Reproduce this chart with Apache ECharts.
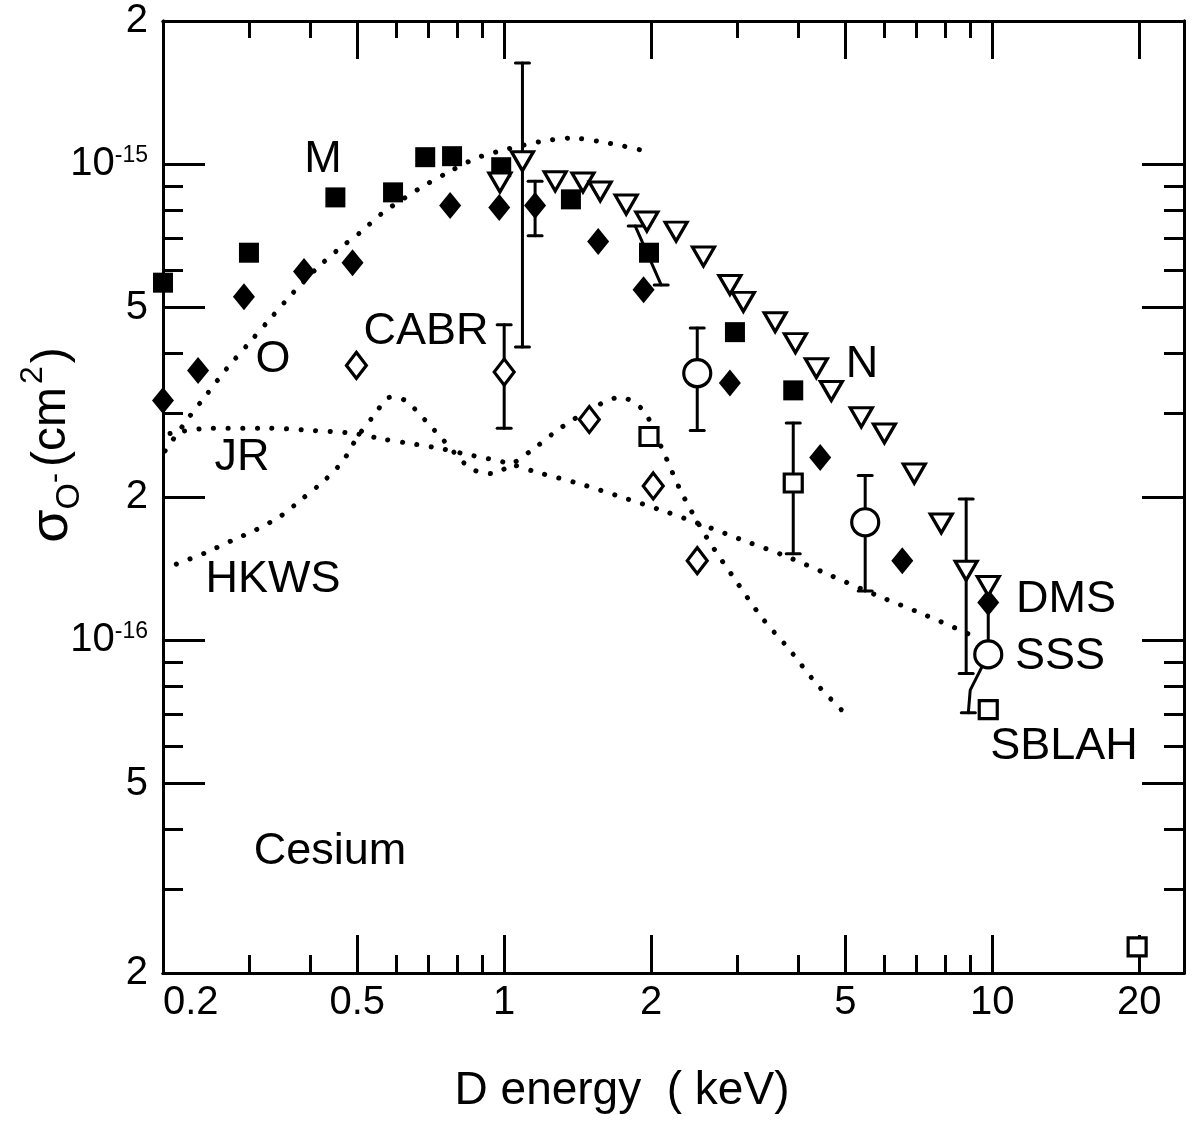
<!DOCTYPE html>
<html>
<head>
<meta charset="utf-8">
<script src="https://cdn.jsdelivr.net/npm/echarts@6/dist/echarts.min.js"></script>
<style>
  html, body { margin: 0; padding: 0; background: #fff; }
  #chart { width: 1192px; height: 1126px; }
</style>
</head>
<body>
<div id="chart"></div>
<script>
// ---------- axes: ranges, ticks, tick labels ----------
const xRange = [0.2, 24.7];
const yRange = [2e-17, 2e-15];
const xLabelValues = [0.2, 0.5, 1, 2, 5, 10, 20];
const xMajorTicks = [0.5, 1, 2, 5, 10, 20];
const xMinorTicks = [0.3, 0.4, 0.6, 0.7, 0.8, 0.9, 3, 4, 6, 7, 8, 9];
const yLabelValues = [2e-17, 5e-17, 1e-16, 2e-16, 5e-16, 1e-15, 2e-15];
const yMajorTicks = [5e-17, 1e-16, 2e-16, 5e-16, 1e-15];
const yMinorTicks = [3e-17, 4e-17, 6e-17, 7e-17, 8e-17, 9e-17, 3e-16, 4e-16, 6e-16, 7e-16, 8e-16, 9e-16];

// ---------- measurements: [energy keV, cross section cm^2] ----------
const filledSquares = [
  [0.2, 5.64e-16], [0.30, 6.52e-16], [0.451, 8.52e-16], [0.592, 8.73e-16],
  [0.689, 1.035e-15], [0.782, 1.04e-15], [0.986, 0.986e-15], [1.37, 8.44e-16],
  [1.98, 6.52e-16], [2.97, 4.44e-16], [3.91, 3.35e-16]
];
const filledDiamonds = [
  [0.2, 3.19e-16], [0.236, 3.69e-16], [0.293, 5.27e-16], [0.389, 5.95e-16],
  [0.489, 6.21e-16], [0.775, 8.19e-16], [0.977, 8.11e-16], [1.157, 8.19e-16],
  [1.558, 6.88e-16], [1.93, 5.45e-16], [2.90, 3.47e-16], [4.44, 2.42e-16],
  [6.54, 1.47e-16], [9.81, 1.20e-16]
];
const openTriangles = [
  [0.98, 9.16e-16], [1.09, 1.015e-15], [1.272, 9.21e-16], [1.45, 9.16e-16],
  [1.573, 8.77e-16], [1.778, 8.23e-16], [1.96, 7.58e-16], [2.25, 7.22e-16],
  [2.56, 6.40e-16], [2.90, 5.58e-16], [3.09, 5.14e-16], [3.59, 4.66e-16],
  [3.95, 4.21e-16], [4.36, 3.73e-16], [4.68, 3.34e-16], [5.39, 2.94e-16],
  [6.01, 2.72e-16], [6.92, 2.24e-16], [7.86, 1.76e-16], [8.84, 1.40e-16],
  [9.81, 1.30e-16]
];
const openCircles = [[2.486, 3.64e-16], [5.49, 1.77e-16], [9.81, 9.34e-17]];
const openSquares = [[1.98, 2.68e-16], [3.91, 2.14e-16], [9.81, 7.15e-17], [19.8, 2.27e-17]];
const openDiamonds = [[0.498, 3.78e-16], [1.0, 3.66e-16], [1.494, 2.91e-16], [2.02, 2.11e-16], [2.486, 1.47e-16]];

// vertical error bars: [energy, low, high]
const errorBars = [
  [1.09, 4.13e-16, 1.633e-15],
  [1.157, 7.08e-16, 9.21e-16],
  [1.0, 2.79e-16, 4.60e-16],
  [2.486, 2.76e-16, 4.53e-16],
  [3.91, 1.52e-16, 2.86e-16],
  [5.49, 1.27e-16, 2.22e-16],
  [8.84, 8.52e-17, 1.98e-16]
];
// slanted bar through the 2 keV square
const slantBar = [[1.855, 7.42e-16], [2.097, 5.58e-16]];
// bar at 10 keV running from the diamond through the circle, bent at its foot
const linkBar = [[9.81, 1.16e-16], [9.81, 9.34e-17], [9.01, 7.86e-17], [8.93, 7.04e-17]];

// ---------- theory curves ----------
const curveO = [
  [0.202, 2.50e-16], [0.226, 2.94e-16], [0.245, 3.27e-16], [0.2706, 3.73e-16],
  [0.300, 4.21e-16], [0.333, 4.76e-16], [0.3694, 5.37e-16], [0.412, 6.03e-16],
  [0.457, 6.62e-16], [0.507, 7.19e-16], [0.565, 7.92e-16], [0.676, 8.94e-16],
  [0.768, 9.62e-16], [0.876, 1.03e-15], [1.01, 1.075e-15], [1.20, 1.118e-15],
  [1.372, 1.135e-15], [1.558, 1.118e-15], [1.762, 1.091e-15], [1.954, 1.065e-15]
];
const curveJR = [
  [0.2068, 2.72e-16], [0.2497, 2.79e-16], [0.3268, 2.79e-16], [0.4023, 2.76e-16],
  [0.493, 2.72e-16], [0.560, 2.65e-16], [0.642, 2.59e-16], [0.739, 2.53e-16],
  [0.820, 2.47e-16], [1.01, 2.36e-16], [1.157, 2.26e-16], [1.411, 2.14e-16],
  [1.712, 2.01e-16], [2.118, 1.87e-16], [2.618, 1.73e-16], [3.147, 1.61e-16],
  [3.765, 1.504e-16], [4.59, 1.378e-16], [5.84, 1.239e-16], [7.05, 1.146e-16],
  [8.51, 1.055e-16], [9.23, 1.015e-16]
];
const curveHKWS = [
  [0.213, 1.446e-16], [0.244, 1.526e-16], [0.276, 1.618e-16], [0.310, 1.706e-16],
  [0.349, 1.826e-16], [0.386, 1.984e-16], [0.428, 2.165e-16], [0.468, 2.385e-16],
  [0.500, 2.67e-16], [0.5416, 2.97e-16], [0.584, 3.24e-16], [0.627, 3.19e-16],
  [0.689, 2.90e-16], [0.754, 2.62e-16], [0.852, 2.30e-16], [0.945, 2.24e-16],
  [1.053, 2.37e-16], [1.163, 2.55e-16], [1.309, 2.80e-16], [1.558, 3.12e-16],
  [1.729, 3.24e-16], [1.927, 3.04e-16], [2.108, 2.52e-16], [2.305, 2.05e-16],
  [2.594, 1.65e-16], [2.947, 1.358e-16], [3.379, 1.113e-16], [3.837, 9.57e-17],
  [4.36, 8.11e-17], [4.95, 7.08e-17]
];

// ---------- drawing ----------
const FONT = '"Liberation Sans", Arial, Helvetica, sans-serif';
const INK = '#000';

function xAxisDef(position, ticks, len, labels) {
  return {
    type: 'log', logBase: 10, min: xRange[0], max: xRange[1], position: position,
    axisLine: { show: true, onZero: false, lineStyle: { color: INK, width: 3 } },
    axisTick: { show: true, inside: true, length: len, customValues: ticks, lineStyle: { color: INK, width: 3 } },
    axisLabel: labels ? {
      show: true, customValues: xLabelValues, margin: 10, color: INK,
      fontFamily: FONT, fontSize: 40, alignMinLabel: 'left',
      formatter: v => String(+Number(v).toPrecision(2))
    } : { show: false },
    splitLine: { show: false }, minorTick: { show: false }, minorSplitLine: { show: false }
  };
}
function yLabel(v) {
  const e = Math.floor(Math.log10(v) + 1e-6);
  const m = Math.round(v / Math.pow(10, e));
  return m === 1 ? '{b|10}{e|' + e + '}' : '{b|' + m + '}';
}
function yAxisDef(position, ticks, len, labels) {
  return {
    type: 'log', logBase: 10, min: yRange[0], max: yRange[1], position: position,
    axisLine: { show: true, onZero: false, lineStyle: { color: INK, width: 3 } },
    axisTick: { show: true, inside: true, length: len, customValues: ticks, lineStyle: { color: INK, width: 3 } },
    axisLabel: labels ? {
      show: true, customValues: yLabelValues, margin: 15, color: INK,
      formatter: yLabel,
      rich: {
        b: { fontFamily: FONT, fontSize: 40, color: INK, lineHeight: 40, verticalAlign: 'bottom' },
        e: { fontFamily: FONT, fontSize: 23, color: INK, lineHeight: 23, verticalAlign: 'top', padding: [0, 0, 25, 0] }
      }
    } : { show: false },
    splitLine: { show: false }, minorTick: { show: false }, minorSplitLine: { show: false }
  };
}

function scatter(name, data, symbol, size, open, extra) {
  return Object.assign({
    name: name, type: 'scatter', data: data, symbol: symbol, symbolSize: size,
    xAxisIndex: 0, yAxisIndex: 0, z: 5, clip: false, silent: true,
    itemStyle: open
      ? { color: '#fff', borderColor: INK, borderWidth: 3.2, opacity: 1 }
      : { color: INK, borderWidth: 0, opacity: 1 }
  }, extra || {});
}
function dotted(name, data) {
  return {
    name: name, type: 'line', data: data, xAxisIndex: 0, yAxisIndex: 0, z: 2,
    showSymbol: false, symbol: 'none', smooth: 0.3, silent: true,
    lineStyle: { color: INK, width: 5, type: [0.1, 14.5], cap: 'round', opacity: 1 }
  };
}
const barStyle = { stroke: INK, lineWidth: 3, fill: null, lineCap: 'round' };
function cap(p) {
  return { type: 'line', shape: { x1: p[0] - 7, y1: p[1], x2: p[0] + 7, y2: p[1] }, style: barStyle };
}
function pathSeries(points, capFirst, capLast) {
  return {
    type: 'custom', data: points, xAxisIndex: 0, yAxisIndex: 0, z: 3, silent: true,
    encode: { x: 0, y: 1 },
    renderItem: (params, api) => {
      if (params.dataIndex !== 0) return null;
      const pts = points.map(p => api.coord(p));
      const children = [{ type: 'polyline', shape: { points: pts }, style: barStyle }];
      if (capFirst) children.push(cap(pts[0]));
      if (capLast) children.push(cap(pts[pts.length - 1]));
      return { type: 'group', children: children };
    }
  };
}

function noteText(text, x, y) {
  return { type: 'text', x: x, y: y, silent: true,
    style: { text: text, font: '45px ' + FONT, fill: INK, align: 'center', verticalAlign: 'middle' } };
}

const chart = echarts.init(document.getElementById('chart'), null, { renderer: 'canvas' });
chart.setOption({
  animation: false,
  backgroundColor: '#fff',
  grid: { left: 163, right: 8, top: 21, bottom: 153, containLabel: false, outerBoundsMode: 'none' },
  xAxis: [
    xAxisDef('bottom', xMajorTicks, 38, true),
    xAxisDef('bottom', xMinorTicks, 18, false),
    xAxisDef('top', xMajorTicks, 38, false),
    xAxisDef('top', xMinorTicks, 17, false)
  ],
  yAxis: [
    yAxisDef('left', yMajorTicks, 42, true),
    yAxisDef('left', yMinorTicks, 20, false),
    yAxisDef('right', yMajorTicks, 42, false),
    yAxisDef('right', yMinorTicks, 20, false)
  ],
  series: [
    dotted('O', curveO),
    dotted('JR', curveJR),
    dotted('HKWS', curveHKWS),
    {
      name: 'error bars', type: 'custom', data: errorBars, xAxisIndex: 0, yAxisIndex: 0, z: 3, silent: true,
      encode: { x: 0, y: [1, 2] },
      renderItem: (params, api) => {
        const x = api.value(0);
        const lo = api.coord([x, api.value(1)]);
        const hi = api.coord([x, api.value(2)]);
        return { type: 'group', children: [
          { type: 'line', shape: { x1: hi[0], y1: hi[1], x2: lo[0], y2: lo[1] }, style: barStyle },
          cap(hi), cap(lo)
        ] };
      }
    },
    pathSeries(slantBar, true, true),
    pathSeries(linkBar, false, true),
    scatter('M', filledSquares, 'rect', 20, false),
    scatter('DMS', filledDiamonds, 'diamond', [22, 27], false),
    scatter('N', openTriangles, 'triangle', [22, 19], true, { symbolRotate: 180 }),
    scatter('SSS', openCircles, 'circle', 27, true),
    scatter('SBLAH', openSquares, 'rect', 18, true),
    scatter('CABR', openDiamonds, 'diamond', [20, 26], true)
  ],
  graphic: [
    noteText('M', 323, 160),
    noteText('O', 273, 360),
    noteText('CABR', 426, 332),
    noteText('JR', 242, 458),
    noteText('HKWS', 273, 580),
    noteText('N', 862, 365),
    noteText('DMS', 1066, 600),
    noteText('SSS', 1060, 657),
    noteText('SBLAH', 1064, 747),
    noteText('Cesium', 330, 852),
    {
      type: 'text', x: 622, y: 1091, silent: true,
      style: { text: 'D energy  ( keV)', font: '46px ' + FONT, fill: INK, align: 'center', verticalAlign: 'middle' }
    },
    {
      type: 'text', x: 52, y: 445, rotation: Math.PI / 2, silent: true,
      style: {
        text: '{s|σ}{o|O}{mi|-}{m|(cm}{p|2}{m|)}',
        align: 'center', verticalAlign: 'middle', fill: INK,
        rich: {
          s: { font: '54px ' + FONT, fill: INK, lineHeight: 70, verticalAlign: 'middle' },
          o: { font: '34px ' + FONT, fill: INK, lineHeight: 34, verticalAlign: 'bottom' },
          mi: { font: '30px ' + FONT, fill: INK, lineHeight: 30, verticalAlign: 'bottom', padding: [0, 6, 16, 0] },
          m: { font: '48px ' + FONT, fill: INK, lineHeight: 70, verticalAlign: 'middle' },
          p: { font: '32px ' + FONT, fill: INK, lineHeight: 32, verticalAlign: 'top', padding: [0, 3, 0, 3] }
        }
      }
    }
  ]
});
</script>
</body>
</html>
